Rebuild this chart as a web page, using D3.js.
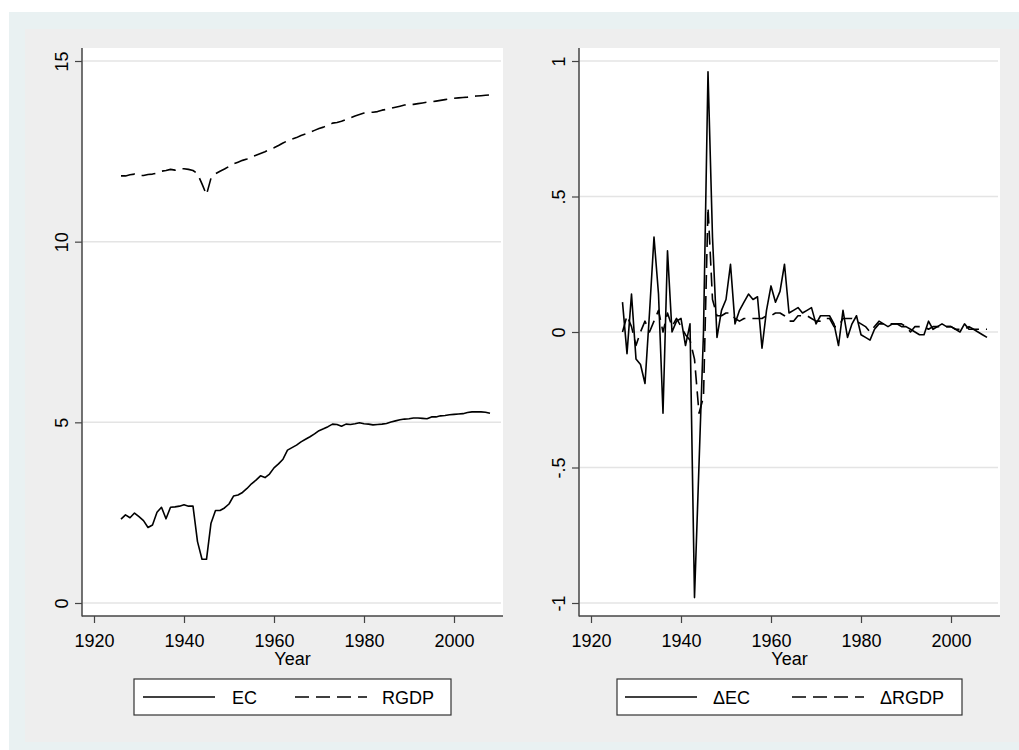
<!DOCTYPE html>
<html>
<head>
<meta charset="utf-8">
<script src="https://cdn.jsdelivr.net/npm/d3@7"></script>
<style>
    body { margin: 0; background: #ffffff; }
    svg text { font-family: "Liberation Sans", Arial, sans-serif; fill: #000; }
</style>
</head>
<body>
<svg id="chart" width="1019" height="750"></svg>
<script>

// Years for the level series (left panel)
var years = [
    1926, 1927, 1928, 1929, 1930, 1931, 1932, 1933, 1934, 1935,
    1936, 1937, 1938, 1939, 1940, 1941, 1942, 1943, 1944, 1945,
    1946, 1947, 1948, 1949, 1950, 1951, 1952, 1953, 1954, 1955,
    1956, 1957, 1958, 1959, 1960, 1961, 1962, 1963, 1964, 1965,
    1966, 1967, 1968, 1969, 1970, 1971, 1972, 1973, 1974, 1975,
    1976, 1977, 1978, 1979, 1980, 1981, 1982, 1983, 1984, 1985,
    1986, 1987, 1988, 1989, 1990, 1991, 1992, 1993, 1994, 1995,
    1996, 1997, 1998, 1999, 2000, 2001, 2002, 2003, 2004, 2005,
    2006, 2007, 2008
];

var ec = [
    2.32, 2.44, 2.36, 2.49, 2.39, 2.28, 2.09, 2.16, 2.51, 2.65,
    2.33, 2.65, 2.66, 2.68, 2.72, 2.68, 2.68, 1.70, 1.21, 1.21,
    2.21, 2.56, 2.56, 2.63, 2.74, 2.96, 2.99, 3.06, 3.17, 3.30,
    3.40, 3.52, 3.47, 3.57, 3.74, 3.85, 3.98, 4.23, 4.30, 4.37,
    4.46, 4.53, 4.60, 4.68, 4.77, 4.82, 4.88, 4.95, 4.94, 4.89,
    4.95, 4.94, 4.96, 4.99, 4.96, 4.95, 4.93, 4.94, 4.95, 4.97,
    5.01, 5.04, 5.07, 5.09, 5.10, 5.12, 5.12, 5.11, 5.10, 5.15,
    5.15, 5.18, 5.19, 5.21, 5.22, 5.23, 5.24, 5.27, 5.29, 5.29,
    5.29, 5.28, 5.25
];

var rgdp = [
    11.82, 11.82, 11.85, 11.87, 11.83, 11.83, 11.86, 11.87, 11.90, 11.95,
    11.97, 12.00, 11.98, 12.02, 12.02, 12.00, 11.97, 11.88, 11.60, 11.30,
    11.76, 11.88, 11.95, 12.01, 12.08, 12.15, 12.20, 12.25, 12.29, 12.34,
    12.39, 12.44, 12.49, 12.55, 12.60, 12.66, 12.73, 12.79, 12.84, 12.88,
    12.94, 12.98, 13.03, 13.08, 13.13, 13.17, 13.22, 13.28, 13.30, 13.33,
    13.38, 13.43, 13.48, 13.52, 13.56, 13.58, 13.58, 13.60, 13.64, 13.66,
    13.69, 13.72, 13.75, 13.78, 13.80, 13.80, 13.82, 13.84, 13.86, 13.87,
    13.89, 13.91, 13.93, 13.95, 13.97, 13.98, 13.99, 14.00, 14.02, 14.03,
    14.04, 14.05, 14.06
];

// Years for the first differences (right panel)
var diffYears = [
          1927, 1928, 1929, 1930, 1931, 1932, 1933, 1934, 1935,
    1936, 1937, 1938, 1939, 1940, 1941, 1942, 1943, 1944, 1945,
    1946, 1947, 1948, 1949, 1950, 1951, 1952, 1953, 1954, 1955,
    1956, 1957, 1958, 1959, 1960, 1961, 1962, 1963, 1964, 1965,
    1966, 1967, 1968, 1969, 1970, 1971, 1972, 1973, 1974, 1975,
    1976, 1977, 1978, 1979, 1980, 1981, 1982, 1983, 1984, 1985,
    1986, 1987, 1988, 1989, 1990, 1991, 1992, 1993, 1994, 1995,
    1996, 1997, 1998, 1999, 2000, 2001, 2002, 2003, 2004, 2005,
    2006, 2007, 2008
];

var dEc = [
           0.11, -0.08,  0.14, -0.10, -0.12, -0.19,  0.07,  0.35,  0.14,
    -0.30,  0.30,  0.00,  0.04,  0.05, -0.05,  0.03, -0.98, -0.49,  0.00,
     0.96,  0.35, -0.02,  0.08,  0.12,  0.25,  0.03,  0.08,  0.11,  0.14,
     0.12,  0.13, -0.06,  0.08,  0.17,  0.11,  0.15,  0.25,  0.07,  0.08,
     0.09,  0.07,  0.08,  0.09,  0.03,  0.06,  0.06,  0.06,  0.03, -0.05,
     0.08, -0.02,  0.03,  0.06, -0.01, -0.02, -0.03,  0.01,  0.03,  0.03,
     0.02,  0.03,  0.03,  0.02,  0.02,  0.01,  0.00, -0.01, -0.01,  0.04,
     0.01,  0.02,  0.03,  0.02,  0.02,  0.01,  0.00,  0.03,  0.01,  0.01,
     0.00, -0.01, -0.02
];

var dRgdp = [
           0.00,  0.06,  0.02, -0.05,  0.00,  0.04,  0.00,  0.04,  0.08,
     0.00,  0.07,  0.02,  0.05,  0.02, -0.01, -0.03, -0.10, -0.30, -0.24,
     0.46,  0.12,  0.06,  0.06,  0.07,  0.07,  0.05,  0.04,  0.05,  0.05,
     0.05,  0.05,  0.05,  0.06,  0.06,  0.07,  0.07,  0.06,  0.04,  0.04,
     0.06,  0.06,  0.06,  0.05,  0.04,  0.04,  0.05,  0.05,  0.02,  0.02,
     0.05,  0.05,  0.05,  0.04,  0.03,  0.02,  0.00,  0.02,  0.04,  0.03,
     0.03,  0.03,  0.03,  0.03,  0.02,  0.00,  0.02,  0.02,  0.02,  0.01,
     0.02,  0.02,  0.02,  0.02,  0.02,  0.01,  0.01,  0.01,  0.02,  0.01,
     0.01,  0.01,  0.01
];

// Tick values and legend labels
var xTicks = [1920, 1940, 1960, 1980, 2000];
var levelTicks = [0, 5, 10, 15];
var diffTicks = [-1, -0.5, 0, 0.5, 1];
var levelNames = ["EC", "RGDP"];
var diffNames = ["\u0394EC", "\u0394RGDP"];

var DASH = "14,7";

var svg = d3.select("#chart");

// Graph backgrounds: outer combine region and the inner graph region
svg.append("rect")
    .attr("x", 9).attr("y", 12)
    .attr("width", 1010).attr("height", 738)
    .attr("fill", "#e9f1f2");

svg.append("rect")
    .attr("x", 25).attr("y", 29)
    .attr("width", 994).attr("height", 713)
    .attr("fill", "#eeeeee");

/**
 * Format the difference ticks the way Stata does (".5", "-.5")
 */
function stataFormat(v) {
    if (v === 0) return "0";
    return String(v).replace("0.", ".");
}

/**
 * Draw one panel: plot box, grid, axes, two series and the legend
 */
function drawPanel(cfg) {

    var g = svg.append("g").attr("class", "panel");

    var x = d3.scaleLinear().domain([1920, 2000]).range(cfg.xRange);
    var y = d3.scaleLinear().domain(cfg.yDomain).range([603, 61]);

    // Plot region
    g.append("rect")
        .attr("x", cfg.box[0]).attr("y", 48)
        .attr("width", cfg.box[1] - cfg.box[0]).attr("height", 616 - 48)
        .attr("fill", "#ffffff");

    // Horizontal grid lines
    g.append("g")
        .selectAll("line")
        .data(cfg.yTicks)
        .enter()
        .append("line")
        .attr("x1", cfg.box[0] + 1)
        .attr("x2", cfg.box[1] - 2)
        .attr("y1", function (d) { return y(d); })
        .attr("y2", function (d) { return y(d); })
        .attr("stroke", "#e4e4e4")
        .attr("stroke-width", 1.5);

    // Series
    var line = d3.line()
        .x(function (d) { return x(d[0]); })
        .y(function (d) { return y(d[1]); });

    cfg.series.forEach(function (s, i) {
        g.append("path")
            .datum(d3.zip(cfg.years, s))
            .attr("fill", "none")
            .attr("stroke", "#000")
            .attr("stroke-width", 1.6)
            .attr("stroke-linejoin", "round")
            .attr("stroke-dasharray", i === 1 ? DASH : null)
            .attr("d", line);
    });

    // Y axis
    var yAxis = g.append("g")
        .attr("transform", "translate(" + cfg.box[0] + ",0)")
        .call(d3.axisLeft(y).tickValues(cfg.yTicks).tickSize(7).tickSizeOuter(0).tickFormat(cfg.yFormat));
    yAxis.select(".domain").remove();
    yAxis.selectAll(".tick line").attr("stroke", "#444").attr("stroke-width", 1.2);
    yAxis.selectAll(".tick text")
        .attr("transform", "rotate(-90)")
        .attr("text-anchor", "middle")
        .attr("x", 0)
        .attr("y", -14)
        .attr("dy", 0)
        .style("font-size", "18px")
        .attr("fill", "#000");

    // X axis
    var xAxis = g.append("g")
        .attr("transform", "translate(0,616)")
        .call(d3.axisBottom(x).tickValues(xTicks).tickSize(7).tickSizeOuter(0).tickFormat(d3.format("d")));
    xAxis.select(".domain").remove();
    xAxis.selectAll(".tick line").attr("stroke", "#444").attr("stroke-width", 1.2);
    xAxis.selectAll(".tick text")
        .attr("y", 31)
        .attr("dy", 0)
        .style("font-size", "18px")
        .attr("fill", "#000");

    // Axis lines spanning the whole plot box
    g.append("line")
        .attr("x1", cfg.box[0]).attr("x2", cfg.box[0])
        .attr("y1", 48).attr("y2", 616.5)
        .attr("stroke", "#444").attr("stroke-width", 1.5);
    g.append("line")
        .attr("x1", cfg.box[0]).attr("x2", cfg.box[1])
        .attr("y1", 616).attr("y2", 616)
        .attr("stroke", "#444").attr("stroke-width", 1.5);

    // Axis title
    g.append("text")
        .attr("x", (cfg.box[0] + cfg.box[1]) / 2)
        .attr("y", 665)
        .attr("text-anchor", "middle")
        .style("font-size", "18px")
        .text("Year");

    // Legend
    var lg = cfg.legend;
    g.append("rect")
        .attr("x", lg.x0).attr("y", 679)
        .attr("width", lg.x1 - lg.x0).attr("height", 36)
        .attr("fill", "#ffffff")
        .attr("stroke", "#333")
        .attr("stroke-width", 1.2);

    var items = g.append("g")
        .selectAll("g")
        .data(cfg.names)
        .enter()
        .append("g");

    items.append("line")
        .attr("x1", function (d, i) { return lg.keys[i]; })
        .attr("x2", function (d, i) { return lg.keys[i] + 72; })
        .attr("y1", 697).attr("y2", 697)
        .attr("stroke", "#000")
        .attr("stroke-width", 1.6)
        .attr("stroke-dasharray", function (d, i) { return i === 1 ? DASH : null; });

    items.append("text")
        .attr("x", function (d, i) { return lg.labels[i]; })
        .attr("y", 704)
        .style("font-size", "18px")
        .text(function (d) { return d; });

    return g;
}

drawPanel({
    box: [82, 503],
    xRange: [94, 454],
    yDomain: [0, 15],
    yTicks: levelTicks,
    yFormat: d3.format("d"),
    years: years,
    series: [ec, rgdp],
    names: levelNames,
    legend: { x0: 134, x1: 451, keys: [143, 295], labels: [232, 382] }
});

drawPanel({
    box: [579, 1000],
    xRange: [591, 951],
    yDomain: [-1, 1],
    yTicks: diffTicks,
    yFormat: stataFormat,
    years: diffYears,
    series: [dEc, dRgdp],
    names: diffNames,
    legend: { x0: 617, x1: 962, keys: [625, 792], labels: [713, 880] }
});

</script>
</body>
</html>
